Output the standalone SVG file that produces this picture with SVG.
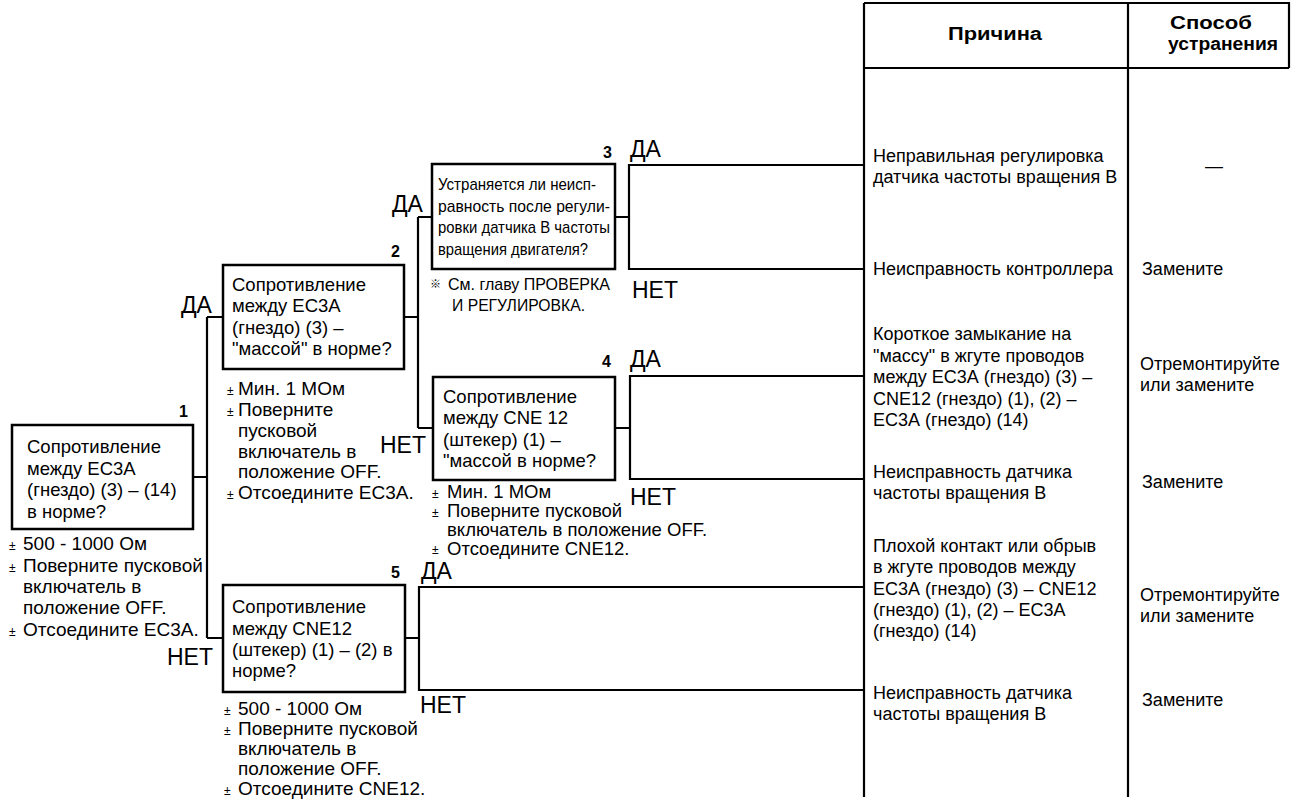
<svg xmlns="http://www.w3.org/2000/svg" width="1296" height="801" viewBox="0 0 1296 801">
  <style>
    .box { fill: #fff; stroke: #000; stroke-width: 2.5; }
    .ln { fill: none; stroke: #000; stroke-width: 2.2; }
    .t { font-family: "Liberation Sans", Arial, sans-serif; font-size: 18.5px; fill: #000; }
    .tq { font-family: "Liberation Sans", Arial, sans-serif; font-size: 19px; fill: #000; }
    .tn { font-family: "Liberation Sans", Arial, sans-serif; font-size: 18.5px; fill: #000; }
    .tc { font-family: "Liberation Sans", Arial, sans-serif; font-size: 17px; fill: #000; }
    .yn { font-family: "Liberation Sans", Arial, sans-serif; font-size: 23px; fill: #000; }
    .num { font-family: "Liberation Sans", Arial, sans-serif; font-size: 16px; font-weight: bold; fill: #000; }
    .pm { font-family: "Liberation Sans", Arial, sans-serif; font-size: 12px; fill: #000; }
    .hd { font-family: "Liberation Sans", Arial, sans-serif; font-size: 18px; font-weight: bold; fill: #000; }
    .rc { font-family: "Liberation Sans", Arial, sans-serif; font-size: 18px; fill: #000; }
  </style>
  <rect width="1296" height="801" fill="#fff"/>

  <!-- table frame -->
  <g id="table">
    <path class="ln" d="M864,3 V797 M1128,3 V797 M864,3 H1289 V68 M864,68 H1289"/>
    <text class="hd" x="948" y="40" textLength="94" lengthAdjust="spacingAndGlyphs">Причина</text>
    <text class="hd" x="1170" y="29" textLength="82" lengthAdjust="spacingAndGlyphs">Способ</text>
    <text class="hd" x="1168" y="50" textLength="110" lengthAdjust="spacingAndGlyphs">устранения</text>
  </g>

  <!-- connectors -->
  <g id="connectors">
    <path class="ln" d="M193,477 H207 M207,317 V638 M207,317 H223 M207,638 H223"/>
    <path class="ln" d="M404,317 H418 M418,217 V428 M418,217 H432 M418,428 H433"/>
    <path class="ln" d="M615,217 H629 M864,165 H629 V269 H864"/>
    <path class="ln" d="M615,428 H630 M864,376 H630 V479 H864"/>
    <path class="ln" d="M405,638 H419 M864,587 H419 V690 H864"/>
    <text class="yn" x="181" y="313">ДА</text>
    <text class="yn" x="167" y="665">НЕТ</text>
    <text class="yn" x="392" y="212">ДА</text>
    <text class="yn" x="380" y="453">НЕТ</text>
    <text class="yn" x="630" y="157">ДА</text>
    <text class="yn" x="632" y="298">НЕТ</text>
    <text class="yn" x="630" y="367">ДА</text>
    <text class="yn" x="630" y="505">НЕТ</text>
    <text class="yn" x="421" y="579">ДА</text>
    <text class="yn" x="420" y="713">НЕТ</text>
  </g>

  <!-- check 1 -->
  <g id="node1">
    <text class="num" x="179" y="417">1</text>
    <rect class="box" x="12" y="425" width="181" height="104"/>
    <text class="t" x="27" y="453">Сопротивление</text>
    <text class="t" x="27" y="475">между ЕС3А</text>
    <text class="t" x="27" y="496">(гнездо) (3) – (14)</text>
    <text class="t" x="27" y="518">в норме?</text>
    <text class="pm" x="9" y="550">±</text><text class="tq" x="23" y="550">500 - 1000 Ом</text>
    <text class="pm" x="9" y="572">±</text><text class="tq" x="23" y="572">Поверните пусковой</text>
    <text class="tq" x="23" y="593">включатель в</text>
    <text class="tq" x="23" y="614">положение OFF.</text>
    <text class="pm" x="9" y="636">±</text><text class="tq" x="23" y="636">Отсоедините ЕС3А.</text>
  </g>

  <!-- check 2 -->
  <g id="node2">
    <text class="num" x="391" y="257">2</text>
    <rect class="box" x="223" y="265" width="181" height="104"/>
    <text class="t" x="232" y="291">Сопротивление</text>
    <text class="t" x="232" y="312">между ЕС3А</text>
    <text class="t" x="232" y="334">(гнездо) (3) –</text>
    <text class="t" x="232" y="355">"массой" в норме?</text>
    <text class="pm" x="227" y="395">±</text><text class="tq" x="238" y="395">Мин. 1 МОм</text>
    <text class="pm" x="227" y="416">±</text><text class="tq" x="238" y="416">Поверните</text>
    <text class="tq" x="238" y="437">пусковой</text>
    <text class="tq" x="238" y="458">включатель в</text>
    <text class="tq" x="238" y="478">положение OFF.</text>
    <text class="pm" x="227" y="499">±</text><text class="tq" x="238" y="499">Отсоедините ЕС3А.</text>
  </g>

  <!-- check 3 -->
  <g id="node3">
    <text class="num" x="603" y="158">3</text>
    <rect class="box" x="432" y="164" width="183" height="105"/>
    <text class="tc" x="438" y="190" textLength="158" lengthAdjust="spacingAndGlyphs">Устраняется ли неисп-</text>
    <text class="tc" x="438" y="212" textLength="172" lengthAdjust="spacingAndGlyphs">равность после регули-</text>
    <text class="tc" x="438" y="233" textLength="172" lengthAdjust="spacingAndGlyphs">ровки датчика В частоты</text>
    <text class="tc" x="438" y="255" textLength="150" lengthAdjust="spacingAndGlyphs">вращения двигателя?</text>
    <text x="430" y="288" font-family="Noto Sans CJK JP, sans-serif" font-size="11" fill="#000">※</text>
    <text class="tc" x="448" y="290" textLength="162" lengthAdjust="spacingAndGlyphs">См. главу ПРОВЕРКА</text>
    <text class="tc" x="452" y="311" textLength="133" lengthAdjust="spacingAndGlyphs">И РЕГУЛИРОВКА.</text>
  </g>

  <!-- check 4 -->
  <g id="node4">
    <text class="num" x="602" y="367">4</text>
    <rect class="box" x="433" y="377" width="182" height="103"/>
    <text class="t" x="443" y="403">Сопротивление</text>
    <text class="t" x="443" y="424">между CNE 12</text>
    <text class="t" x="443" y="446">(штекер) (1) –</text>
    <text class="t" x="443" y="467">"массой в норме?</text>
    <text class="pm" x="432" y="498">±</text><text class="tn" x="447" y="498">Мин. 1 МОм</text>
    <text class="pm" x="432" y="517">±</text><text class="tn" x="447" y="517">Поверните пусковой</text>
    <text class="tn" x="447" y="536">включатель в положение OFF.</text>
    <text class="pm" x="432" y="554">±</text><text class="tn" x="447" y="555">Отсоедините CNE12.</text>
  </g>

  <!-- check 5 -->
  <g id="node5">
    <text class="num" x="391" y="578">5</text>
    <rect class="box" x="223" y="585" width="182" height="107"/>
    <text class="t" x="232" y="613">Сопротивление</text>
    <text class="t" x="232" y="635">между CNE12</text>
    <text class="t" x="232" y="656">(штекер) (1) – (2) в</text>
    <text class="t" x="232" y="677">норме?</text>
    <text class="pm" x="224" y="715">±</text><text class="tq" x="238" y="715">500 - 1000 Ом</text>
    <text class="pm" x="224" y="735">±</text><text class="tq" x="238" y="735">Поверните пусковой</text>
    <text class="tq" x="238" y="755">включатель в</text>
    <text class="tq" x="238" y="775">положение OFF.</text>
    <text class="pm" x="224" y="795">±</text><text class="tq" x="238" y="795">Отсоедините CNE12.</text>
  </g>

  <!-- causes and remedies -->
  <g id="results">
    <text class="rc" x="873" y="162">Неправильная регулировка</text>
    <text class="rc" x="873" y="183">датчика частоты вращения В</text>
    <text class="rc" x="1214" y="172" text-anchor="middle">—</text>

    <text class="rc" x="873" y="275">Неисправность контроллера</text>
    <text class="rc" x="1142" y="275">Замените</text>

    <text class="rc" x="873" y="340">Короткое замыкание на</text>
    <text class="rc" x="873" y="362">"массу" в жгуте проводов</text>
    <text class="rc" x="873" y="383">между ЕС3А (гнездо) (3) –</text>
    <text class="rc" x="873" y="405">CNE12 (гнездо) (1), (2) –</text>
    <text class="rc" x="873" y="426">ЕС3А (гнездо) (14)</text>
    <text class="rc" x="1140" y="370">Отремонтируйте</text>
    <text class="rc" x="1140" y="391">или замените</text>

    <text class="rc" x="873" y="478">Неисправность датчика</text>
    <text class="rc" x="873" y="499">частоты вращения В</text>
    <text class="rc" x="1142" y="488">Замените</text>

    <text class="rc" x="873" y="552">Плохой контакт или обрыв</text>
    <text class="rc" x="873" y="573">в жгуте проводов между</text>
    <text class="rc" x="873" y="595">ЕС3А (гнездо) (3) – CNE12</text>
    <text class="rc" x="873" y="616">(гнездо) (1), (2) – ЕС3А</text>
    <text class="rc" x="873" y="637">(гнездо) (14)</text>
    <text class="rc" x="1140" y="601">Отремонтируйте</text>
    <text class="rc" x="1140" y="622">или замените</text>

    <text class="rc" x="873" y="699">Неисправность датчика</text>
    <text class="rc" x="873" y="720">частоты вращения В</text>
    <text class="rc" x="1142" y="706">Замените</text>
  </g>
</svg>
